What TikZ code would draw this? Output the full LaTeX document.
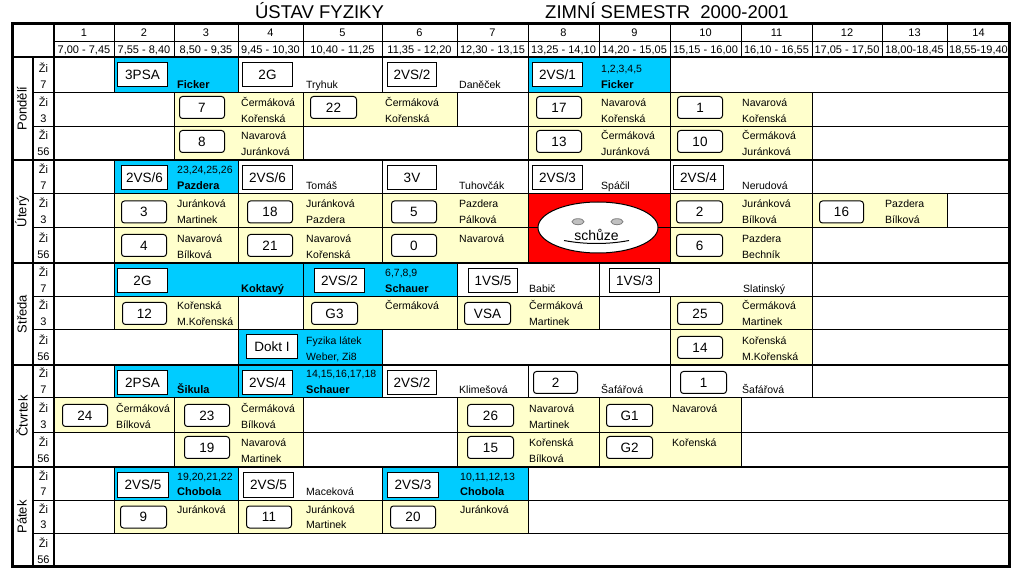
\documentclass[tikz,border=0pt]{standalone}
\usepackage{fontspec}
\setmainfont{Liberation Sans}
\newcommand\tFs[1]{\fontsize{#1}{#1}\selectfont}
\definecolor{cyanc}{HTML}{00CCFF}
\definecolor{yelc}{HTML}{FFFFCC}
\definecolor{redc}{HTML}{FF0000}
\definecolor{eyeg}{HTML}{C0C0C0}
\definecolor{eyed}{HTML}{808080}
\newcounter{nid}
\newcommand\tNid{\stepcounter{nid}}
\tikzset{
  cellst/.style={draw=black,line width=1pt},
  thinline/.style={line width=1pt},
  thickline/.style={line width=2.5pt},
  sqb/.style={draw,fill=white,line width=1pt,minimum height=24pt,inner sep=0pt,font=\tFs{13.5}},
  rbx/.style={draw,fill=white,line width=1pt,rounded corners=3pt,minimum height=22pt,inner sep=0pt,font=\tFs{13.5}},
  txt/.style={anchor=base west,inner sep=0pt,font=\tFs{10.5}},
  btxt/.style={anchor=base west,inner sep=0pt,font=\bfseries\tFs{11}},
  ctxt/.style={anchor=base,inner sep=0pt,font=\tFs{11}},
  daylab/.style={rotate=90,inner sep=0pt,font=\tFs{13}},
  titl/.style={anchor=base,inner sep=0pt,font=\tFs{18.5}},
}
\newcommand\tCel[5]{\path[cellst,fill=#5] (#1,#3) rectangle (#2,#4);}
\newcommand\tSq[4]{\tNid\node (b\arabic{nid}) [sqb,minimum width=#3pt,anchor=north west] at (#1,#2) {#4};}
\newcommand\tRb[4]{\tNid\node (b\arabic{nid}) [rbx,minimum width=#3pt,anchor=west] at (#1,#2) {#4};}
\newcommand\tLa[3]{\tNid\node (t\arabic{nid}) [txt] at (#1,#2-20) {#3};}
\newcommand\tLb[3]{\tNid\node (t\arabic{nid}) [txt] at (#1,#2-4) {#3};}
\newcommand\tLbb[3]{\tNid\node (t\arabic{nid}) [btxt] at (#1,#2-4) {#3};}
\newcommand\tTw[4]{\tLa{#1}{#2}{#3}\tLb{#1}{#2}{#4}}
\begin{document}
\begin{tikzpicture}[x=1pt,y=-1pt]
\useasboundingbox (0,0) rectangle (1013,569);
\fill[white] (0,0) rectangle (1013,569);

% titles
\node (title1) [titl] at (319.5,19) {ÚSTAV FYZIKY};
\node (title2) [titl] at (667,19) {ZIMNÍ SEMESTR\hspace{0.55em}2000-2001};

% ---------- cells ----------
% Pondeli
\tCel{114}{238}{57}{93}{cyanc}\tCel{238}{382}{57}{93}{white}\tCel{382}{528}{57}{93}{white}\tCel{528}{670}{57}{93}{cyanc}
\tCel{174}{303}{93}{127}{yelc}\tCel{303}{457}{93}{127}{yelc}\tCel{528}{670}{93}{127}{yelc}\tCel{670}{812}{93}{127}{yelc}
\tCel{174}{303}{127}{160}{yelc}\tCel{528}{670}{127}{160}{yelc}\tCel{670}{812}{127}{160}{yelc}
% Utery
\tCel{114}{238}{160}{194}{cyanc}\tCel{238}{382}{160}{194}{white}\tCel{382}{528}{160}{194}{white}\tCel{528}{670}{160}{194}{white}\tCel{670}{812}{160}{194}{white}
\tCel{114}{238}{194}{228}{yelc}\tCel{238}{382}{194}{228}{yelc}\tCel{382}{528}{194}{228}{yelc}\tCel{528}{670}{194}{263}{redc}\tCel{670}{812}{194}{228}{yelc}\tCel{812}{947}{194}{228}{yelc}
\tCel{114}{238}{228}{263}{yelc}\tCel{238}{382}{228}{263}{yelc}\tCel{382}{528}{228}{263}{yelc}\tCel{670}{812}{228}{263}{yelc}
% Streda
\tCel{114}{303}{263}{297}{cyanc}\tCel{303}{457}{263}{297}{cyanc}\tCel{457}{599}{263}{297}{white}\tCel{599}{812}{263}{297}{white}
\tCel{114}{238}{297}{330}{yelc}\tCel{303}{457}{297}{330}{yelc}\tCel{457}{599}{297}{330}{yelc}\tCel{670}{812}{297}{330}{yelc}
\tCel{238}{382}{330}{365}{cyanc}\tCel{670}{812}{330}{365}{yelc}
% Ctvrtek
\tCel{114}{238}{365}{398}{cyanc}\tCel{238}{382}{365}{398}{cyanc}\tCel{382}{528}{365}{398}{white}\tCel{528}{670}{365}{398}{white}\tCel{670}{812}{365}{398}{white}
\tCel{54}{174}{398}{433}{yelc}\tCel{174}{303}{398}{433}{yelc}\tCel{457}{599}{398}{433}{yelc}\tCel{599}{741}{398}{433}{yelc}
\tCel{174}{303}{433}{467}{yelc}\tCel{457}{599}{433}{467}{yelc}\tCel{599}{741}{433}{467}{yelc}
% Patek
\tCel{114}{238}{467}{500}{cyanc}\tCel{238}{382}{467}{500}{white}\tCel{382}{528}{467}{500}{cyanc}
\tCel{114}{238}{500}{533}{yelc}\tCel{238}{382}{500}{533}{yelc}\tCel{382}{528}{500}{533}{yelc}

% ---------- grid lines ----------
\foreach \xx in {114,174,238,303,382,457,528,599,670,741,812,882,947}
  \draw[thinline] (\xx,23) -- (\xx,57);
\draw[thinline] (54,42) -- (1010,42);
\foreach \yy in {93,127,194,228,297,330,398,433,500,533}
  \draw[thinline] (33,\yy) -- (1010,\yy);

% smiley
\draw[line width=1pt,fill=white] (598,227.5) ellipse [x radius=60pt,y radius=25.5pt];
\draw[draw=eyed,fill=eyeg,line width=0.8pt] (578,221.7) ellipse [x radius=6pt,y radius=3pt];
\draw[draw=eyed,fill=eyeg,line width=0.8pt] (617,221.7) ellipse [x radius=6pt,y radius=3pt];
\draw[line width=1pt] (564,240.5) .. controls (585,244.5) and (608,244.5) .. (629,240.5);
\node (schuze) [anchor=base,inner sep=0pt,font=\tFs{14}] at (596.5,240.5) {schůze};

\foreach \yy in {160,263,365,467}
  \draw[thickline] (12,\yy) -- (1010,\yy);
\draw[line width=2pt] (12,57) -- (1010,57);
\draw[line width=2pt] (33,57) -- (33,567);
\draw[line width=2pt] (54,23) -- (54,567);
\draw[line width=3pt] (12.5,23.5) rectangle (1009.5,566.5);

% ---------- header ----------
\foreach \i/\a/\b/\t in {1/54/114/{7,00 - 7,45},2/114/174/{7,55 - 8,40},3/174/238/{8,50 - 9,35},
  4/238/303/{9,45 - 10,30},5/303/382/{10,40 - 11,25},6/382/457/{11,35 - 12,20},7/457/528/{12,30 - 13,15},
  8/528/599/{13,25 - 14,10},9/599/670/{14,20 - 15,05},10/670/741/{15,15 - 16,00},11/741/812/{16,10 - 16,55},
  12/812/882/{17,05 - 17,50},13/882/947/{18,00-18,45},14/947/1010/{18,55-19,40}}{
  \node (hn\i) [ctxt] at ({(\a+\b)/2},36.5) {\i};
  \node (ht\i) [ctxt] at ({(\a+\b)/2},54) {\t};
}

% ---------- day labels ----------
\node (d1) [daylab] at (22,108.5) {Pondělí};
\node (d2) [daylab] at (22,211.5) {Úterý};
\node (d3) [daylab] at (22,314) {Středa};
\node (d4) [daylab] at (22,416) {Čtvrtek};
\node (d5) [daylab] at (22,517) {Pátek};
\foreach \yy/\n [count=\k] in {93/7,127/3,160/56,194/7,228/3,263/56,297/7,330/3,365/56,398/7,433/3,467/56,500/7,533/3,567/56}{
  \node (zi\k) [ctxt] at (43.5,\yy-20) {Ži};
  \node (zn\k) [ctxt] at (43.5,\yy-4) {\n};
}

% ---------- Pondeli ----------
\tSq{117}{62.5}{50}{3PSA}\tLbb{177}{93}{Ficker}
\tSq{242}{62.5}{50}{2G}\tLb{306}{93}{Tryhuk}
\tSq{387}{62.5}{49}{2VS/2}\tLb{459}{93}{Daněček}
\tSq{532}{62.5}{50}{2VS/1}\tLa{601}{93}{1,2,3,4,5}\tLbb{601}{93}{Ficker}
\tRb{179}{107.5}{45}{7}\tTw{241}{127}{Čermáková}{Kořenská}
\tRb{310}{107.5}{46}{22}\tTw{385}{127}{Čermáková}{Kořenská}
\tRb{536}{107.5}{45}{17}\tTw{601}{127}{Navarová}{Kořenská}
\tRb{677}{107.5}{45}{1}\tTw{742}{127}{Navarová}{Kořenská}
\tRb{179}{141.5}{45}{8}\tTw{241}{160}{Navarová}{Juránková}
\tRb{536}{141.5}{45}{13}\tTw{601}{160}{Čermáková}{Juránková}
\tRb{677}{141.5}{45}{10}\tTw{742}{160}{Čermáková}{Juránková}

% ---------- Utery ----------
\tSq{121}{165.5}{46}{2VS/6}\tLa{177}{194}{23,24,25,26}\tLbb{177}{194}{Pazdera}
\tSq{242}{165.5}{50}{2VS/6}\tLb{306}{194}{Tomáš}
\tSq{387}{165.5}{49}{3V}\tLb{459}{194}{Tuhovčák}
\tSq{532}{165.5}{50}{2VS/3}\tLb{601}{194}{Spáčil}
\tSq{673}{165.5}{50}{2VS/4}\tLb{742}{194}{Nerudová}
\tRb{121}{212}{45}{3}\tTw{177}{228}{Juránková}{Martinek}
\tRb{247}{212}{45}{18}\tTw{306}{228}{Juránková}{Pazdera}
\tRb{391}{212}{45}{5}\tTw{459}{228}{Pazdera}{Pálková}
\tRb{676}{212}{46}{2}\tTw{742}{228}{Juránková}{Bílková}
\tRb{819}{212}{44}{16}\tTw{885}{228}{Pazdera}{Bílková}
\tRb{121}{245.5}{45}{4}\tTw{177}{263}{Navarová}{Bílková}
\tRb{247}{245.5}{45}{21}\tTw{306}{263}{Navarová}{Kořenská}
\tRb{391}{245.5}{45}{0}\tLa{459}{263}{Navarová}
\tRb{676}{245.5}{46}{6}\tTw{742}{263}{Pazdera}{Bechník}

% ---------- Streda ----------
\tSq{117}{268.5}{50}{2G}\tLbb{241}{297}{Koktavý}
\tSq{314}{268.5}{50}{2VS/2}\tLa{385}{297}{6,7,8,9}\tLbb{385}{297}{Schauer}
\tSq{468}{268.5}{49}{1VS/5}\tLb{529}{297}{Babič}
\tSq{609}{268.5}{50}{1VS/3}\tLb{743}{297}{Slatinský}
\tRb{122}{313.5}{44}{12}\tTw{177}{330}{Kořenská}{M.Kořenská}
\tRb{311}{313.5}{46}{G3}\tLa{385}{330}{Čermáková}
\tRb{464}{313.5}{46}{VSA}\tTw{529}{330}{Čermáková}{Martinek}
\tRb{677}{313.5}{45}{25}\tTw{742}{330}{Čermáková}{Martinek}
\tSq{246}{334.5}{51}{Dokt I}\tTw{306}{365}{Fyzika látek}{Weber, Zi8}
\tRb{677}{347.5}{45}{14}\tTw{742}{365}{Kořenská}{M.Kořenská}

% ---------- Ctvrtek ----------
\tSq{117}{370.5}{50}{2PSA}\tLbb{177}{398}{Šikula}
\tSq{242}{370.5}{50}{2VS/4}\tLa{306}{398}{14,15,16,17,18}\tLbb{306}{398}{Schauer}
\tSq{387}{370.5}{49}{2VS/2}\tLb{459}{398}{Klimešová}
\tRb{533}{382.5}{44}{2}\tLb{601}{398}{Šafářová}
\tRb{680}{382.5}{46}{1}\tLb{742}{398}{Šafářová}
\tRb{62}{415.5}{45}{24}\tTw{116}{433}{Čermáková}{Bílková}
\tRb{184}{415.5}{45}{23}\tTw{241}{433}{Čermáková}{Bílková}
\tRb{467}{415.5}{46}{26}\tTw{529}{433}{Navarová}{Martinek}
\tRb{606}{415.5}{46}{G1}\tLa{672}{433}{Navarová}
\tRb{184}{447.5}{45}{19}\tTw{241}{467}{Navarová}{Martinek}
\tRb{467}{447.5}{46}{15}\tTw{529}{467}{Kořenská}{Bílková}
\tRb{606}{447.5}{46}{G2}\tLa{672}{467}{Kořenská}

% ---------- Patek ----------
\tSq{117}{472.5}{51}{2VS/5}\tLa{177}{500}{19,20,21,22}\tLbb{177}{500}{Chobola}
\tSq{243}{472.5}{50}{2VS/5}\tLb{306}{500}{Maceková}
\tSq{387}{472.5}{51}{2VS/3}\tLa{460}{500}{10,11,12,13}\tLbb{460}{500}{Chobola}
\tRb{120}{517}{46}{9}\tLa{177}{533}{Juránková}
\tRb{246}{517}{45}{11}\tTw{306}{533}{Juránková}{Martinek}
\tRb{390}{517}{45}{20}\tLa{460}{533}{Juránková}
\end{tikzpicture}
\end{document}
